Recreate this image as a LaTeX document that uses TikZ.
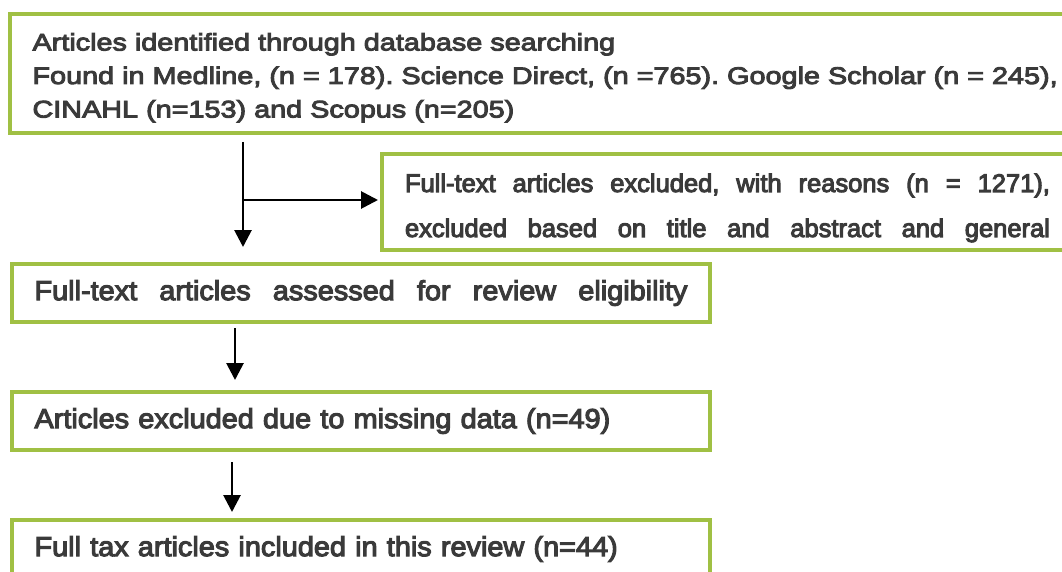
\documentclass[tikz,border=0pt]{standalone}
\usepackage{fontspec}
\usepackage{xcolor}
\usetikzlibrary{arrows.meta}

\setmainfont[FakeBold=4]{Liberation Sans}
\newfontfamily\fontebusca[FakeStretch=1.2, FakeBold=4]{Liberation Sans}
\newfontfamily\fontepasso[FakeStretch=1.05, FakeBold=4]{Liberation Sans}

\definecolor{verde}{RGB}{160,192,68}
\definecolor{cinza}{RGB}{58,58,58}

% linha esticada ate a largura dada
\newcommand{\linha}[2]{\makebox[#1][s]{\spaceskip=0pt\xspaceskip=0pt\relax #2}}

\begin{document}
\frenchspacing
\begin{tikzpicture}[x=1pt, y=-1pt]
        \tikzstyle{caixa}=[draw=verde, line width=3.5pt, rectangle, anchor=north west, outer sep=0pt, inner ysep=0pt, inner xsep=22.5pt, text=cinza, align=left]
        \tikzstyle{passo}=[caixa, font=\fontepasso\fontsize{27.5}{33}\selectfont, text width=653pt, minimum height=58pt]
        \tikzstyle{seta}=[black, line width=2.8pt, -{Triangle[length=17pt, width=17pt]}]

        \useasboundingbox (0,0) rectangle (1062,572);
        \clip (0,0) rectangle (1062,572);
        \fill[white] (0,0) rectangle (1062,572);

        \coordinate (A) at (10,14);
        \coordinate (B) at (382,154);
        \coordinate (C) at (12,264);
        \coordinate (D) at (12,392);
        \coordinate (E) at (12,520);
        \coordinate (F) at (243,200);

        \node at (A)[caixa, text width=1146pt, minimum height=119pt, text height=17.5pt, text depth=63.5pt, font=\fontebusca\fontsize{24}{33.5}\selectfont] (busca)
          {Articles identified through database searching\\
           Found in Medline, (n = 178). Science Direct, (n =765). Google Scholar (n = 245),\\
           CINAHL (n=153) and Scopus (n=205)};

        \node at (B)[caixa, inner xsep=23pt, text width=772pt, minimum height=96pt, text height=19pt, text depth=39pt, font=\fontsize{25.5}{45}\selectfont] (excluidos)
          {\linha{645pt}{Full-text articles excluded, with reasons (n = 1271),}\\
           \linha{645pt}{excluded based on title and abstract and general}};

        \node at (C)[passo] (avaliados) {\linha{653pt}{Full-text articles assessed for review eligibility}};
        \node at (D)[passo] (perdidos) {Articles excluded due to missing data (n=49)};
        \node at (E)[passo] (incluidos) {Full tax articles included in this review (n=44)};

        % setas entre as caixas
        \draw[seta, shorten <=9pt, shorten >=17pt] (busca.south -| F) -- (avaliados.north -| F);
        \draw[seta, shorten >=4pt] (F) -- (F -| excluidos.west);
        \draw[seta, shorten <=6pt, shorten >=12pt] ([xshift=223pt]avaliados.south west) -- ([xshift=223pt]perdidos.north west);
        \draw[seta, shorten <=12pt, shorten >=8pt] ([xshift=220pt]perdidos.south west) -- ([xshift=220pt]incluidos.north west);
      \end{tikzpicture}
\end{document}
